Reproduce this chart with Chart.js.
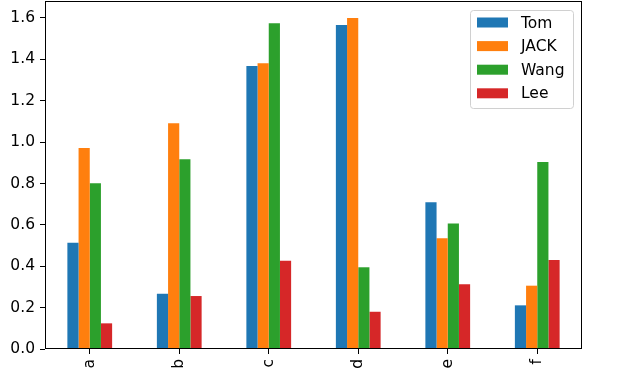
<!DOCTYPE html>
<html>
<head>
<meta charset="utf-8">
<script src="https://cdn.jsdelivr.net/npm/chart.js@4"></script>
<style>
  html, body { margin: 0; padding: 0; background: #fff; }
  #wrap { width: 624px; height: 375px; }
</style>
</head>
<body>
<div id="wrap"><canvas id="myChart" width="624" height="375"></canvas></div>
<script>
var categories = ['a', 'b', 'c', 'd', 'e', 'f'];
var tom  = [0.514, 0.267, 1.368, 1.566, 0.709, 0.211];
var jack = [0.971, 1.091, 1.381, 1.600, 0.535, 0.306];
var wang = [0.801, 0.917, 1.574, 0.395, 0.607, 0.904];
var lee  = [0.124, 0.256, 0.427, 0.180, 0.313, 0.430];
var yTicks = [0, 0.2, 0.4, 0.6, 0.8, 1.0, 1.2, 1.4, 1.6];

var FONT = 'DejaVu Sans';
var FSIZE = 15.5;

// matplotlib style frame + legend box in upper right
var framePlugin = {
    id: 'frame',
    afterDraw: function (chart) {
        var c = chart.ctx, a = chart.chartArea;
        c.save();
        c.strokeStyle = '#000';
        c.lineWidth = 1;
        c.strokeRect(Math.round(a.left) + 0.5, Math.round(a.top) + 0.5,
                     Math.round(a.right - a.left) - 1, Math.round(a.bottom - a.top) - 1);

        // legend
        var sets = chart.data.datasets;
        var bx = a.right - 112, by = a.top + 9, bw = 103, bh = 98;
        c.fillStyle = 'rgba(255,255,255,0.8)';
        c.strokeStyle = '#d0d0d0';
        c.beginPath();
        c.roundRect(bx + 0.5, by + 0.5, bw, bh, 3);
        c.fill();
        c.stroke();
        c.font = FSIZE + 'px ' + FONT;
        c.textBaseline = 'middle';
        c.textAlign = 'left';
        for (var i = 0; i < sets.length; i++) {
            var cy = by + 12.5 + i * 23.6;
            c.fillStyle = sets[i].backgroundColor;
            c.fillRect(bx + 7, cy - 5, 31, 10);
            c.fillStyle = '#000';
            c.fillText(sets[i].label, bx + 51, cy + 1);
        }
        c.restore();
    }
};

function noPad(s) {
    s.paddingTop = 0;
    s.paddingBottom = 0;
    s.paddingLeft = 0;
    s.paddingRight = 0;
}

var ctx = document.getElementById('myChart').getContext('2d');
var myChart = new Chart(ctx, {
    type: 'bar',
    data: {
        labels: categories,
        datasets: [
            { label: 'Tom',  data: tom,  backgroundColor: '#1f77b4' },
            { label: 'JACK', data: jack, backgroundColor: '#ff7f0e' },
            { label: 'Wang', data: wang, backgroundColor: '#2ca02c' },
            { label: 'Lee',  data: lee,  backgroundColor: '#d62728' }
        ]
    },
    options: {
        responsive: false,
        animation: false,
        devicePixelRatio: 1,
        layout: { padding: { top: 1, right: 42, left: 0, bottom: 0 } },
        datasets: {
            bar: { categoryPercentage: 0.5, barPercentage: 1.0, borderWidth: 0 }
        },
        plugins: {
            legend: { display: false },
            tooltip: { enabled: false }
        },
        scales: {
            x: {
                grid: { display: true, offset: false, drawOnChartArea: false, drawTicks: true, tickLength: 5, color: '#000' },
                border: { display: false },
                ticks: {
                    color: '#000',
                    font: { family: FONT, size: FSIZE },
                    maxRotation: 90,
                    minRotation: 90,
                    padding: 5
                },
                afterFit: function (s) { s.height = 26; noPad(s); }
            },
            y: {
                min: 0,
                max: 1.682,
                afterBuildTicks: function (s) {
                    s.ticks = yTicks.map(function (v) { return { value: v }; });
                },
                grid: { display: true, drawOnChartArea: false, drawTicks: true, tickLength: 5, color: '#000' },
                border: { display: false },
                ticks: {
                    color: '#000',
                    font: { family: FONT, size: FSIZE },
                    padding: 5,
                    callback: function (v) { return Number(v).toFixed(1); }
                },
                afterFit: function (s) { s.width = 45; noPad(s); }
            }
        }
    },
    plugins: [framePlugin]
});
</script>
</body>
</html>
